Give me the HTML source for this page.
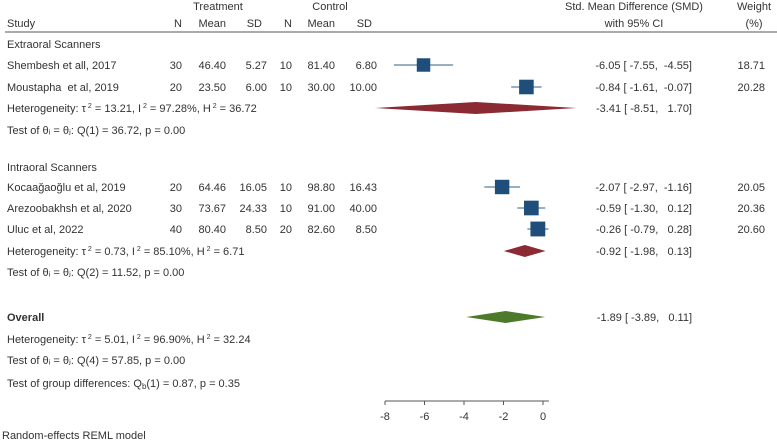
<!DOCTYPE html>
<html><head><meta charset="utf-8"><style>
body{margin:0;background:#fff;}
svg{display:block;font-family:"Liberation Sans",sans-serif;font-size:11px;fill:#333;}
svg text{white-space:pre;}
</style></head><body>
<svg id="chart" width="777" height="441">
<g id="txt">
<text x="218" y="10" text-anchor="middle">Treatment</text>
<text x="330" y="10" text-anchor="middle">Control</text>
<text x="634" y="10" text-anchor="middle">Std. Mean Difference (SMD)</text>
<text x="634" y="27" text-anchor="middle">with 95% CI</text>
<text x="754" y="10" text-anchor="middle">Weight</text>
<text x="754" y="27" text-anchor="middle">(%)</text>
<text x="7" y="27">Study</text>
<text x="182" y="27" text-anchor="end">N</text>
<text x="226" y="27" text-anchor="end">Mean</text>
<text x="262" y="27" text-anchor="end">SD</text>
<text x="292" y="27" text-anchor="end">N</text>
<text x="335" y="27" text-anchor="end">Mean</text>
<text x="372" y="27" text-anchor="end">SD</text>
<line x1="5" y1="32" x2="777" y2="32" stroke="#555" stroke-width="1"/>
<text x="7" y="48">Extraoral Scanners</text>
<text x="7" y="112">Heterogeneity: τ<tspan dy="-4" font-size="7"> 2</tspan><tspan dy="4"> = 13.21, I</tspan><tspan dy="-4" font-size="7"> 2</tspan><tspan dy="4"> = 97.28%, H</tspan><tspan dy="-4" font-size="7"> 2</tspan><tspan dy="4"> = 36.72</tspan></text>
<text x="7" y="134">Test of θᵢ = θⱼ: Q(1) = 36.72, p = 0.00</text>
<text x="7" y="171">Intraoral Scanners</text>
<text x="7" y="255">Heterogeneity: τ<tspan dy="-4" font-size="7"> 2</tspan><tspan dy="4"> = 0.73, I</tspan><tspan dy="-4" font-size="7"> 2</tspan><tspan dy="4"> = 85.10%, H</tspan><tspan dy="-4" font-size="7"> 2</tspan><tspan dy="4"> = 6.71</tspan></text>
<text x="7" y="276">Test of θᵢ = θⱼ: Q(2) = 11.52, p = 0.00</text>
<text x="7" y="321" font-weight="bold">Overall</text>
<text x="7" y="343">Heterogeneity: τ<tspan dy="-4" font-size="7"> 2</tspan><tspan dy="4"> = 5.01, I</tspan><tspan dy="-4" font-size="7"> 2</tspan><tspan dy="4"> = 96.90%, H</tspan><tspan dy="-4" font-size="7"> 2</tspan><tspan dy="4"> = 32.24</tspan></text>
<text x="7" y="364">Test of θᵢ = θⱼ: Q(4) = 57.85, p = 0.00</text>
<text x="7" y="387">Test of group differences: Q<tspan font-size="8" dy="2">b</tspan><tspan dy="-2">(1) = 0.87, p = 0.35</tspan></text>
<text x="2" y="439">Random-effects REML model</text>
</g>
<g id="marks"></g>
<g id="axis"></g>
</svg>
<script>
const studies = ["Shembesh et all, 2017","Moustapha  et al, 2019","Kocaağaoğlu et al, 2019","Arezoobakhsh et al, 2020","Uluc et al, 2022"];
const tN = [30,20,20,30,40];
const tMean = ["46.40","23.50","64.46","73.67","80.40"];
const tSD = ["5.27","6.00","16.05","24.33","8.50"];
const cN = [10,10,10,10,20];
const cMean = ["81.40","30.00","98.80","91.00","82.60"];
const cSD = ["6.80","10.00","16.43","40.00","8.50"];
const smd = [-6.05,-0.84,-2.07,-0.59,-0.26];
const lo = [-7.55,-1.61,-2.97,-1.30,-0.79];
const hi = [-4.55,-0.07,-1.16,0.12,0.28];
const weights = [18.71,20.28,20.05,20.36,20.60];
const studyRowY = [65,87,187,208,229];
const pooledLabels = ["extraoral","intraoral","overall"];
const pooledEst = [-3.41,-0.92,-1.89];
const pooledLo = [-8.51,-1.98,-3.89];
const pooledHi = [1.70,0.13,0.11];
const pooledRowY = [108,251,317];
const pooledColor = ["#8b2a33","#8b2a33","#4d7a2a"];
const ticks = [-8,-6,-4,-2,0];

const NS="http://www.w3.org/2000/svg";
const x = v => 543 + v*19.75;
const marks=document.getElementById('marks');
function mk(tag,attrs,parent){const e=document.createElementNS(NS,tag);for(const k in attrs)e.setAttribute(k,attrs[k]);parent.appendChild(e);return e;}
function txt(s,xx,yy,anchor,parent){const t=mk('text',{x:xx,y:yy,'text-anchor':anchor},parent);t.textContent=s;return t;}
const f2=v=>v.toFixed(2);
const pad=v=>(v<0?'':' ')+f2(v);
const ci=(v,l,h)=>f2(v)+" [ "+f2(l)+",  "+pad(h)+"]";
studies.forEach((s,i)=>{
  const y=studyRowY[i], by=y+4;
  const g=mk('g',{},marks);
  
  
  txt(s,7,by,'start',g);
  txt(String(tN[i]),182,by,'end',g);
  txt(tMean[i],226,by,'end',g);
  txt(tSD[i],267,by,'end',g);
  txt(String(cN[i]),292,by,'end',g);
  txt(cMean[i],335,by,'end',g);
  txt(cSD[i],377,by,'end',g);
  txt(ci(smd[i],lo[i],hi[i]),692,by,'end',g);
  txt(f2(weights[i]),765,by,'end',g);
  const l=mk('line',{x1:x(lo[i]),x2:x(hi[i]),y1:y,y2:y,stroke:'#5a7fa0','stroke-width':1.2},g);
  
  
  const sz=weights[i]*0.72;
  const r=mk('rect',{x:x(smd[i])-sz/2,y:y-sz/2,width:sz,height:sz,fill:'#1f4e7a'},g);
  
  
});
pooledEst.forEach((v,i)=>{
  const y=pooledRowY[i];
  const g=mk('g',{},marks);
  
  
  const p=mk('polygon',{points:`${x(pooledLo[i])},${y} ${x(v)},${y-6} ${x(pooledHi[i])},${y} ${x(v)},${y+6}`,fill:pooledColor[i]},g);
  
  
  txt(ci(v,pooledLo[i],pooledHi[i]),692,y+4,'end',g);
});
const ax=document.getElementById('axis');
mk('line',{x1:x(-8),x2:x(0.3),y1:401,y2:401,stroke:'#555'},ax);
ticks.forEach(t=>{
  mk('line',{x1:x(t),x2:x(t),y1:401,y2:405,stroke:'#555'},ax);
  const lt=txt(String(t),x(t),420,'middle',ax);
  
  
});
</script>
</body></html>
